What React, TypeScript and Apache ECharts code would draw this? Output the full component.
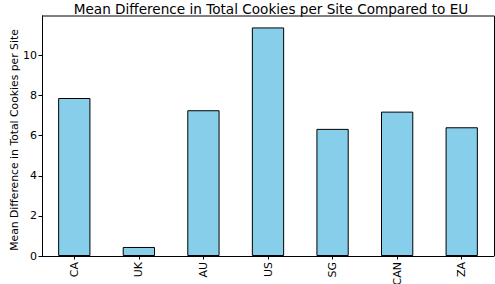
import React, { useEffect, useRef } from "react";
import * as echarts from "echarts";

const categories = ["CA", "UK", "AU", "US", "SG", "CAN", "ZA"];
const values = [7.88, 0.45, 7.27, 11.4, 6.34, 7.2, 6.42];
const yTicks = [0, 2, 4, 6, 8, 10];

export default function App() {
  const ref = useRef<HTMLDivElement>(null);
  useEffect(() => {
    document.body.style.margin = "0";
    const chart = echarts.init(ref.current!, null, { renderer: "svg" });
    const font = "DejaVu Sans";
    chart.setOption({
      animation: false,
      backgroundColor: "#ffffff",
      title: {
        text: "Mean Difference in Total Cookies per Site Compared to EU",
        left: 266,
        top: -3.5,
        textAlign: "center",
        textStyle: { fontFamily: font, fontSize: 13.6, fontWeight: "normal", color: "#000" },
      },
      grid: { left: 42, right: 1, top: 16, bottom: 28, containLabel: false, outerBoundsMode: "none" },
      xAxis: {
        type: "category",
        data: categories,
        boundaryGap: true,
        axisLine: { show: true, lineStyle: { color: "#000", width: 1 } },
        axisTick: { show: true, alignWithLabel: true, length: 3.5, inside: false, lineStyle: { color: "#000" } },
        axisLabel: { rotate: 90, fontFamily: font, fontSize: 11, color: "#000", margin: 6 },
        splitLine: { show: false },
      },
      yAxis: {
        type: "value",
        min: 0,
        max: 11.97,
        interval: 2,
        axisLine: { show: true, lineStyle: { color: "#000", width: 1 } },
        axisTick: { show: true, length: 3.5, lineStyle: { color: "#000" } },
        axisLabel: {
          fontFamily: font,
          fontSize: 11,
          color: "#000",
          margin: 5,
          showMaxLabel: false,
          formatter: (v: number) => (yTicks.includes(v) ? String(v) : ""),
        },
        splitLine: { show: false },
      },
      series: [
        {
          type: "bar",
          data: values,
          barWidth: "50%",
          itemStyle: { color: "#87CEEB", borderColor: "#000", borderWidth: 1 },
        },
      ],
      graphic: [
        {
          type: "text",
          x: 14.5,
          y: 140,
          rotation: Math.PI / 2,
          style: {
            text: "Mean Difference in Total Cookies per Site",
            fontFamily: font,
            fontSize: 10.8,
            fill: "#000",
            align: "center",
            verticalAlign: "middle",
          },
        },
        {
          type: "line",
          shape: { x1: 42, y1: 16, x2: 494.5, y2: 16 },
          style: { stroke: "#000", lineWidth: 1 },
          z: 100,
        },
        {
          type: "line",
          shape: { x1: 494.5, y1: 16, x2: 494.5, y2: 256 },
          style: { stroke: "#000", lineWidth: 1 },
          z: 100,
        },
      ],
    });
    return () => chart.dispose();
  }, []);
  return <div ref={ref} style={{ position: "fixed", left: 0, top: 0, width: 495, height: 284 }} />;
}
